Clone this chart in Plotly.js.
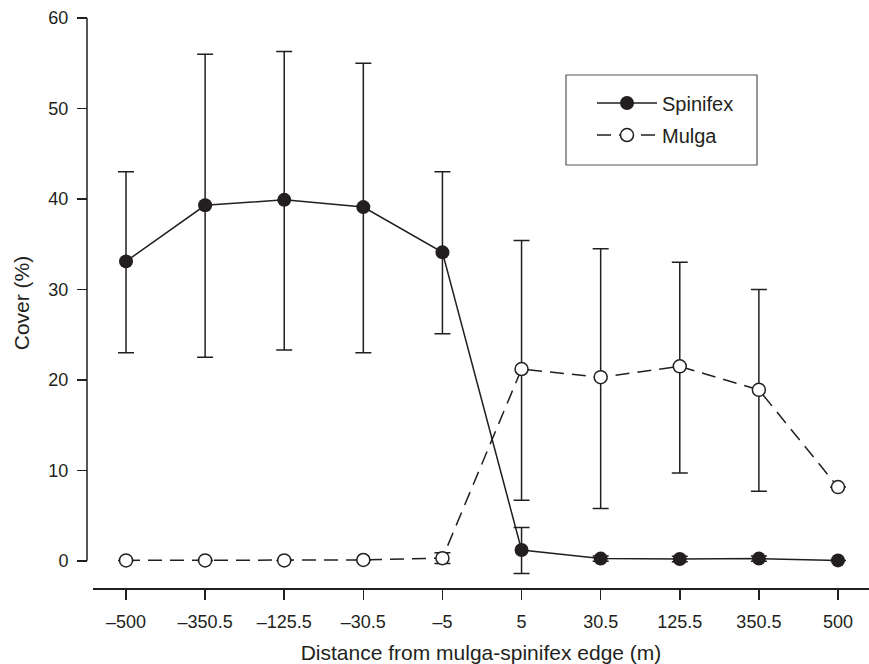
<!DOCTYPE html>
<html>
<head>
<meta charset="utf-8">
<script src="https://cdn.plot.ly/plotly-3.0.1.min.js"></script>
<style>
  html, body { margin: 0; padding: 0; background: #fff; }
  #chart { width: 869px; height: 664px; }
</style>
</head>
<body>
<div id="chart"></div>
<script>
// Distance categories (m)
const categories = ["–500", "–350.5", "–125.5", "–30.5", "–5", "5", "30.5", "125.5", "350.5", "500"];

// Spinifex cover (%) and error bars
const spinifex      = [33.1, 39.3, 39.9, 39.1, 34.1, 1.2, 0.25, 0.2, 0.25, 0.05];
const spinifexUp    = [9.9, 16.7, 16.4, 15.9, 8.9, 2.5, 0.3, 0.3, 0.3, null];
const spinifexDown  = [10.1, 16.8, 16.6, 16.1, 9.0, 2.6, 0.3, 0.3, 0.3, null];

// Mulga cover (%) and error bars
const mulga         = [0.05, 0.05, 0.05, 0.1, 0.3, 21.2, 20.3, 21.5, 18.9, 8.15];
const mulgaUp       = [null, null, null, null, 0.6, 14.2, 14.2, 11.5, 11.1, null];
const mulgaDown     = [null, null, null, null, 0.6, 14.5, 14.5, 11.8, 11.2, null];

// Axis ticks
const yTicks = [0, 10, 20, 30, 40, 50, 60];

const ink = "#231f20";
const fontFamily = "'Liberation Sans', Arial, Helvetica, sans-serif";

const traces = [
  {
    name: "Spinifex",
    x: categories,
    y: spinifex,
    type: "scatter",
    mode: "lines+markers",
    legendgroup: "a",
    line: { color: ink, width: 1.5 },
    marker: { symbol: "circle", size: 14, color: ink, line: { width: 0 } },
    error_y: {
      type: "data", symmetric: false,
      array: spinifexUp, arrayminus: spinifexDown,
      color: ink, thickness: 1.5, width: 8
    }
  },
  {
    name: "Mulga",
    x: categories,
    y: mulga,
    type: "scatter",
    mode: "lines+markers",
    legendgroup: "b",
    line: { color: ink, width: 1.5, dash: "14px,8px" },
    marker: { symbol: "circle", size: 13, color: "#ffffff", line: { width: 1.5, color: ink } },
    error_y: {
      type: "data", symmetric: false,
      array: mulgaUp, arrayminus: mulgaDown,
      color: ink, thickness: 1.5, width: 8
    }
  }
];

const layout = {
  width: 869,
  height: 664,
  margin: { l: 87, r: 0, t: 18, b: 76 },
  paper_bgcolor: "#ffffff",
  plot_bgcolor: "#ffffff",
  font: { family: fontFamily, color: ink, size: 18 },
  showlegend: true,
  legend: {
    x: (592 - 87) / 782, y: 0.885, xanchor: "left", yanchor: "top",
    bgcolor: "rgba(0,0,0,0)",
    borderwidth: 0,
    itemwidth: 60,
    font: { size: 20, color: ink, family: fontFamily },
    traceorder: "grouped",
    tracegroupgap: 3
  },
  xaxis: {
    type: "category",
    domain: [0.0077, 1],
    range: [-0.417, 9.392],
    showgrid: false,
    zeroline: false,
    showline: true,
    linecolor: ink,
    linewidth: 1.5,
    ticks: "outside",
    ticklen: 10,
    tickwidth: 1.5,
    tickcolor: ink,
    ticklabelstandoff: 7,
    tickfont: { size: 18, color: ink },
    title: { text: "Distance from mulga-spinifex edge (m)", font: { size: 21, color: ink }, standoff: 14 },
    fixedrange: true
  },
  yaxis: {
    anchor: "free",
    position: 0,
    range: [-3, 60],
    tickvals: yTicks,
    ticktext: yTicks.map(String),
    showgrid: false,
    zeroline: false,
    showline: false,
    ticks: "outside",
    ticklen: 10,
    tickwidth: 1.5,
    tickcolor: ink,
    ticklabelstandoff: 5,
    tickfont: { size: 18, color: ink },
    title: { text: "Cover (%)", font: { size: 21, color: ink }, standoff: 12 },
    fixedrange: true
  },
  shapes: [
    // y axis line spanning 0 to 60 only
    { type: "line", xref: "paper", yref: "y", x0: 0, x1: 0, y0: 0, y1: 60,
      line: { color: ink, width: 1.5 } },
    // legend frame
    { type: "rect", xref: "paper", yref: "paper",
      x0: (566 - 87) / 782, x1: (757 - 87) / 782,
      y0: 1 - (165 - 18) / 570, y1: 1 - (75 - 18) / 570,
      line: { color: "#555", width: 1.2 }, fillcolor: "rgba(0,0,0,0)", layer: "below" }
  ]
};

Plotly.newPlot("chart", traces, layout, { staticPlot: true, displayModeBar: false });
</script>
</body>
</html>
